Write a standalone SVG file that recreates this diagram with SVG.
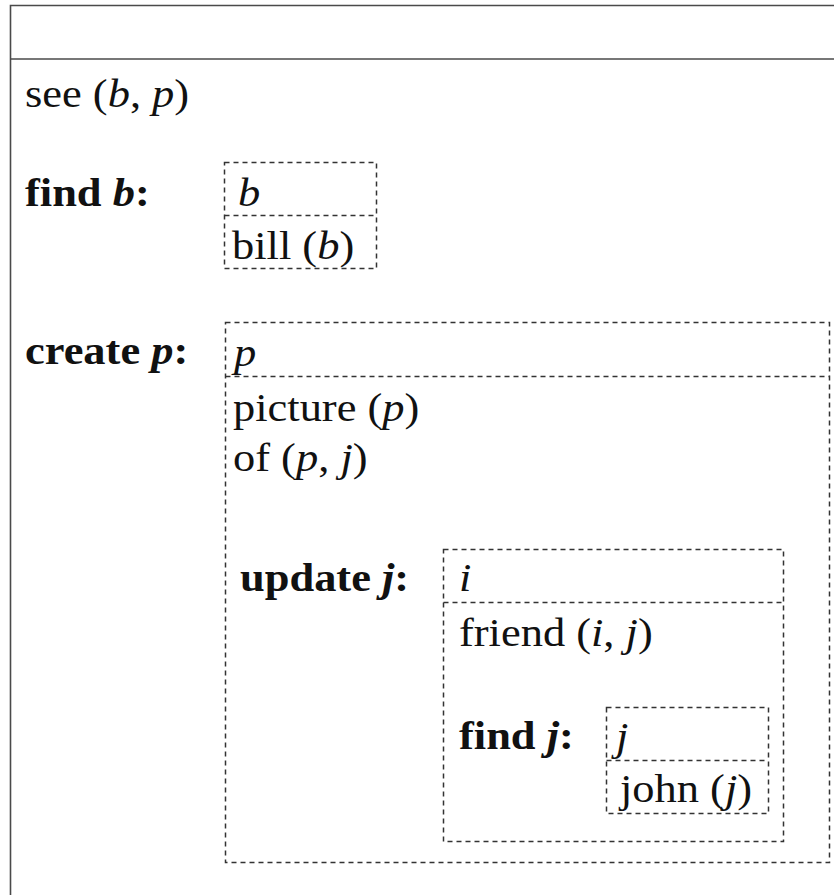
<svg xmlns="http://www.w3.org/2000/svg" width="834" height="895" viewBox="0 0 834 895">
<style>
.frame{fill:none;stroke:#4a4a4a;stroke-width:1.6}
.box{fill:none;stroke:#333;stroke-width:1.5;stroke-dasharray:5 4}
text{font-family:"Liberation Serif","Times New Roman",serif;font-size:39px;fill:#111}
.b{font-weight:bold}
.i{font-style:italic}
</style>
<rect width="834" height="895" fill="#fff"/>
<g id="frame">
<path class="frame" d="M834 5.5 H10.5 V895"/>
<line class="frame" x1="10.5" y1="59" x2="834" y2="59"/>
<text transform="translate(25 107) scale(1.14 1)">see (<tspan class="i">b</tspan>, <tspan class="i">p</tspan>)</text>
</g>
<g id="find-b">
<text class="b" transform="translate(25 206) scale(1.14 1)">find <tspan class="i">b</tspan>:</text>
<rect class="box" x="224.5" y="162.5" width="152" height="106"/>
<line class="box" x1="224.5" y1="215.5" x2="376.5" y2="215.5"/>
<text class="i" transform="translate(238 206) scale(1.14 1)">b</text>
<text transform="translate(232 259) scale(1.14 1)">bill (<tspan class="i">b</tspan>)</text>
</g>
<g id="create-p">
<text class="b" transform="translate(25 364) scale(1.14 1)">create <tspan class="i">p</tspan>:</text>
<rect class="box" x="225.5" y="322.5" width="604" height="540"/>
<line class="box" x1="225.5" y1="376.5" x2="829.5" y2="376.5"/>
<text class="i" transform="translate(234 366) scale(1.14 1)">p</text>
<text transform="translate(233 421) scale(1.14 1)">picture (<tspan class="i">p</tspan>)</text>
<text transform="translate(233 471) scale(1.14 1)">of (<tspan class="i">p</tspan>, <tspan class="i">j</tspan>)</text>
</g>
<g id="update-j">
<text class="b" transform="translate(240 591) scale(1.14 1)">update <tspan class="i">j</tspan>:</text>
<rect class="box" x="443.5" y="549.5" width="340" height="292"/>
<line class="box" x1="443.5" y1="602.5" x2="783.5" y2="602.5"/>
<text class="i" transform="translate(459 591) scale(1.14 1)">i</text>
<text transform="translate(459 646) scale(1.14 1)">friend (<tspan class="i">i</tspan>, <tspan class="i">j</tspan>)</text>
</g>
<g id="find-j">
<text class="b" transform="translate(459 749) scale(1.14 1)">find <tspan class="i">j</tspan>:</text>
<rect class="box" x="606.5" y="707.5" width="162" height="106"/>
<line class="box" x1="606.5" y1="760.5" x2="768.5" y2="760.5"/>
<text class="i" transform="translate(616 750) scale(1.14 1)">j</text>
<text transform="translate(620 802) scale(1.14 1)">john (<tspan class="i">j</tspan>)</text>
</g>
<g id="connectors"/>
</svg>
